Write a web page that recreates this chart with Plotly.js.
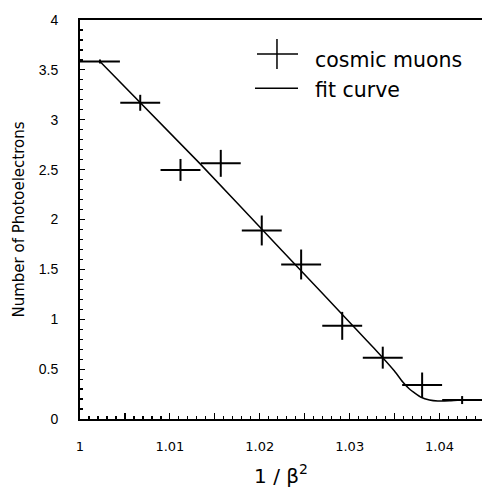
<!DOCTYPE html>
<html>
<head>
<meta charset="utf-8">
<script src="https://cdn.plot.ly/plotly-3.0.1.min.js"></script>
<style>html,body{margin:0;padding:0;background:#fff}</style>
</head>
<body>
<div id="chart" style="width:482px;height:494px"></div>
<script>
// Cosmic muon data points (bin centres of 1/beta^2)
const muonX = [1.00222, 1.00670, 1.01118, 1.01566, 1.02022, 1.02460, 1.02917, 1.03368, 1.03806, 1.04251];
const muonY = [3.584, 3.170, 2.497, 2.563, 1.890, 1.549, 0.934, 0.615, 0.341, 0.190];
const muonXErr = [0.00222, 0.00222, 0.00222, 0.00222, 0.00222, 0.00222, 0.00222, 0.00222, 0.00222, 0.00222];
const muonYErr = [0.02, 0.08, 0.11, 0.135, 0.15, 0.15, 0.14, 0.11, 0.125, 0.04];

// Fit curve
const fitX = [1.00222, 1.01329, 1.02238, 1.03184, 1.03368, 1.03498, 1.03591, 1.03665, 1.03795, 1.03888, 1.03980, 1.04110, 1.04221, 1.04466];
const fitY = [3.584, 2.565, 1.697, 0.793, 0.615, 0.482, 0.371, 0.301, 0.218, 0.191, 0.181, 0.183, 0.191, 0.188];

// Tick labels
const xTickVals = [1, 1.01, 1.02, 1.03, 1.04];
const xTickText = ['1', '1.01', '1.02', '1.03', '1.04'];
const xHalfTickVals = [1.005, 1.015, 1.025, 1.035];
const yTickVals = [0, 0.5, 1, 1.5, 2, 2.5, 3, 3.5, 4];
const yTickText = ['0', '0.5', '1', '1.5', '2', '2.5', '3', '3.5', '4'];

const legendLabels = ['cosmic muons', 'fit curve'];

const xRange = [1, 1.04472];

const traces = [
  {
    x: fitX, y: fitY, type: 'scatter', mode: 'lines',
    line: {color: '#000', width: 1.5, shape: 'spline', smoothing: 0.5},
    showlegend: false, hoverinfo: 'skip'
  },
  {
    x: muonX, y: muonY, type: 'scatter', mode: 'markers',
    marker: {size: 2, color: '#000'},
    error_x: {type: 'data', array: muonXErr, visible: true, width: 0, thickness: 2, color: '#000'},
    error_y: {type: 'data', array: muonYErr, visible: true, width: 0, thickness: 2, color: '#000'},
    showlegend: false, hoverinfo: 'skip'
  },
  // an empty trace to activate the half-step tick axis
  {x: [], y: [], xaxis: 'x2', type: 'scatter', mode: 'markers', showlegend: false, hoverinfo: 'skip'}
];

const xTickFont = {family: 'DejaVu Sans, sans-serif', size: 13, color: '#000'};
const yTickFont = {family: 'Liberation Sans, Arial, sans-serif', size: 14, color: '#000'};
const legFont = {family: 'DejaVu Sans, sans-serif', size: 20.5, color: '#000'};

const layout = {
  width: 482, height: 494,
  margin: {l: 80, r: 0, t: 20, b: 75, pad: 0},
  paper_bgcolor: '#fff', plot_bgcolor: '#fff',
  showlegend: false,
  xaxis: {
    range: xRange, showgrid: false, zeroline: false,
    showline: true, linecolor: '#000', linewidth: 2, mirror: true,
    ticks: 'inside', ticklen: 6, tickwidth: 1.2, tickcolor: '#000',
    tickmode: 'array', tickvals: xTickVals, ticktext: xTickText,
    ticklabelstandoff: 14,
    minor: {ticks: 'inside', dtick: 0.001, tick0: 1, ticklen: 3, tickwidth: 1.2, tickcolor: '#000', showgrid: false},
    tickfont: xTickFont,
    title: {text: '1 / β<sup>2</sup>', font: {family: 'DejaVu Sans, sans-serif', size: 20, color: '#000'}, standoff: 16}
  },
  xaxis2: {
    range: xRange, overlaying: 'x', side: 'bottom', showgrid: false, zeroline: false,
    showline: false, ticks: 'inside', ticklen: 6, tickwidth: 1.2, tickcolor: '#000',
    tickmode: 'array', tickvals: xHalfTickVals, showticklabels: false
  },
  yaxis: {
    range: [0, 4], showgrid: false, zeroline: false,
    showline: true, linecolor: '#000', linewidth: 2,
    ticks: 'inside', ticklen: 5, tickwidth: 1.2, tickcolor: '#000',
    tickmode: 'array', tickvals: yTickVals, ticktext: yTickText,
    ticklabelstandoff: 17,
    minor: {ticks: 'inside', dtick: 0.1, tick0: 0, ticklen: 3, tickwidth: 1.2, tickcolor: '#000', showgrid: false},
    tickfont: yTickFont,
    title: {text: 'Number of Photoelectrons', font: {family: 'DejaVu Sans, sans-serif', size: 15, color: '#000'}, standoff: 10}
  },
  annotations: [
    {xref: 'paper', yref: 'paper', x: 0.5796, y: 0.8997, xanchor: 'left', yanchor: 'middle', text: legendLabels[0], showarrow: false, font: legFont},
    {xref: 'paper', yref: 'paper', x: 0.5796, y: 0.8246, xanchor: 'left', yanchor: 'middle', text: legendLabels[1], showarrow: false, font: legFont}
  ],
  shapes: [
    {type: 'line', xref: 'paper', yref: 'paper', x0: 0.4403, x1: 0.5423, y0: 0.9148, y1: 0.9148, line: {color: '#000', width: 1.5}},
    {type: 'line', xref: 'paper', yref: 'paper', x0: 0.49, x1: 0.49, y0: 0.8772, y1: 0.9524, line: {color: '#000', width: 1.5}},
    {type: 'line', xref: 'paper', yref: 'paper', x0: 0.4353, x1: 0.5423, y0: 0.8288, y1: 0.8288, line: {color: '#000', width: 1.5}}
  ]
};

Plotly.newPlot('chart', traces, layout, {staticPlot: true, displayModeBar: false});
</script>
</body>
</html>
